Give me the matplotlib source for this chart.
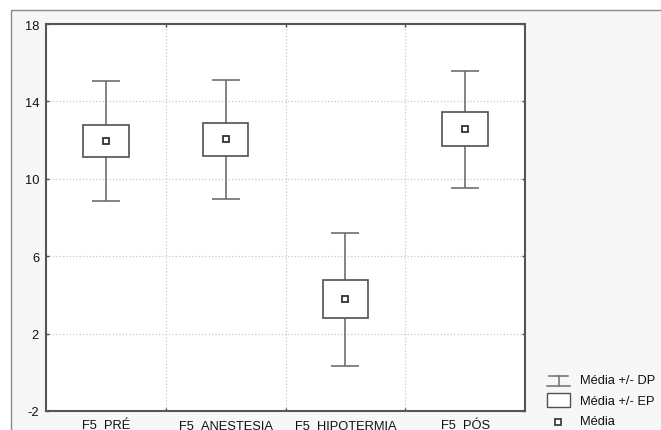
import numpy as np
import matplotlib.pyplot as plt
from matplotlib.lines import Line2D
from matplotlib.patches import Rectangle
from matplotlib.transforms import blended_transform_factory

plt.rcParams['font.family'] = ['Liberation Sans', 'DejaVu Sans']
plt.rcParams['axes.unicode_minus'] = False

# dados por momento
momentos = ['F5_PRÉ', 'F5_ANESTESIA', 'F5_HIPOTERMIA', 'F5_PÓS']
media = [11.94, 12.04, 3.77, 12.57]
ep = [0.82, 0.86, 0.98, 0.88]   # erro padrão
dp = [3.10, 3.09, 3.45, 3.02]   # desvio padrão

LINHA = '#6e6e6e'
CAIXA = '#505050'
FS = 9.3

fig = plt.figure(figsize=(6.61, 4.31), dpi=100, facecolor='white')

# moldura cinza clara em volta do gráfico
fig.patches.append(Rectangle((11 / 661, -0.2), 1.2, 1 - 11 / 431 + 0.2,
                             transform=fig.transFigure, facecolor='#f7f7f7',
                             edgecolor='#8a8a8a', linewidth=1.0, zorder=-10))

ax = fig.add_axes([46 / 661, 1 - 412 / 431, (525 - 46) / 661, (412 - 25) / 431])
ax.set_facecolor('white')

x = np.arange(1, len(momentos) + 1)

# média +/- DP
ax.errorbar(x, media, yerr=dp, fmt='none', ecolor=LINHA, elinewidth=1.2,
            capsize=10.4, capthick=1.2, zorder=2)
# média +/- EP
ax.bar(x, 2 * np.array(ep), bottom=np.array(media) - np.array(ep), width=0.38,
       facecolor='white', edgecolor=CAIXA, linewidth=1.2, zorder=3)
# média
ax.plot(x, media, 's', markersize=4.2, markerfacecolor='white',
        markeredgecolor='#333333', markeredgewidth=1.3, linestyle='none', zorder=4)

ax.set_xlim(0.5, len(momentos) + 0.5)
ax.set_ylim(-2, 18)
ax.set_yticks([-2, 2, 6, 10, 14, 18])
ax.set_xticks(x)
ax.set_xticklabels([])
ax.set_xticks(x[:-1] + 0.5, minor=True)

ax.tick_params(axis='y', direction='in', length=2.5, width=1, color='#444444',
               labelsize=FS, labelcolor='#111111', pad=5, left=True, right=True)
ax.tick_params(axis='x', which='major', length=0)
ax.tick_params(axis='x', which='minor', direction='in', length=2.5, width=1,
               color='#444444', top=True, bottom=True)

# rótulos das categorias alinhados pela linha de base
trans = blended_transform_factory(ax.transData, fig.transFigure)
for xi, nome in zip(x, momentos):
    ax.text(xi, 1 - 429.5 / 431, nome, transform=trans, ha='center', va='baseline',
            fontsize=FS, color='#111111', clip_on=False)

ax.grid(True, axis='y', which='major', linestyle=':', color='#c8c8c8', linewidth=0.9)
ax.grid(True, axis='x', which='minor', linestyle=':', color='#c8c8c8', linewidth=0.9)
ax.set_axisbelow(True)

for s in ax.spines.values():
    s.set_color('#555555')
    s.set_linewidth(1.5)

# legenda desenhada à mão no canto inferior direito
def fx(px):
    return px / 661

def fy(py):
    return 1 - py / 431

ylin = [381.5, 402, 422.5]
x0, x1 = 547, 570
fig.add_artist(Line2D([fx(x0 + 2), fx(x1 - 2)], [fy(376.5)] * 2, color=LINHA, lw=1.1))
fig.add_artist(Line2D([fx(x0), fx(x1)], [fy(386.5)] * 2, color=LINHA, lw=1.1))
fig.add_artist(Line2D([fx((x0 + x1) / 2)] * 2, [fy(376.5), fy(386.5)], color=LINHA, lw=1.1))
fig.add_artist(Rectangle((fx(x0), fy(408)), fx(x1 - x0), 14 / 431,
                         transform=fig.transFigure, facecolor='white', edgecolor=CAIXA, lw=1.0))
fig.add_artist(Line2D([fx(558)], [fy(ylin[2])], marker='s', markersize=4.2,
                      markerfacecolor='white', markeredgecolor='#333333', markeredgewidth=1.2))

textos = ['Média +/- DP', 'Média +/- EP', 'Média']
for t, yy in zip(textos, ylin):
    fig.text(fx(580), fy(yy), t, fontsize=FS, va='center', ha='left', color='#111111')

fig.savefig('out.png', dpi=100, facecolor=fig.get_facecolor())
